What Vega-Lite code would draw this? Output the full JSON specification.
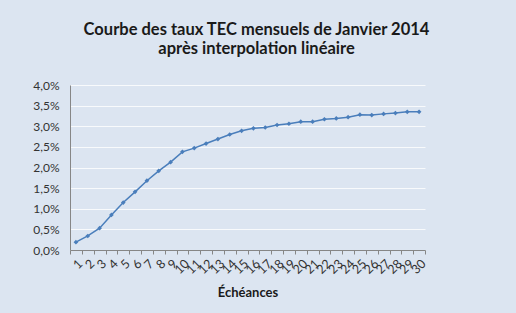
{
  "$schema": "https://vega.github.io/schema/vega-lite/v6.json",
  "width": 355,
  "height": 165,
  "autosize": {"type": "none"},
  "padding": {"left": 70, "top": 85, "right": 91, "bottom": 63},
  "background": "#dce5f1",
  "title": {
    "text": ["Courbe des taux TEC mensuels  de Janvier  2014", "après interpolation  linéaire"],
    "font": "Lato",
    "fontSize": 16.5,
    "fontWeight": "bold",
    "color": "#1a1a1a",
    "lineHeight": 19,
    "anchor": "middle",
    "dx": 9,
    "offset": 22
  },
  "config": {
    "view": {"stroke": null},
    "axis": {"labelFont": "Lato", "titleFont": "Lato"}
  },
  "data": {
    "values": [
      {"echeance": "1", "taux": 0.19},
      {"echeance": "2", "taux": 0.34},
      {"echeance": "3", "taux": 0.53},
      {"echeance": "4", "taux": 0.85},
      {"echeance": "5", "taux": 1.15},
      {"echeance": "6", "taux": 1.41},
      {"echeance": "7", "taux": 1.68},
      {"echeance": "8", "taux": 1.92},
      {"echeance": "9", "taux": 2.13},
      {"echeance": "10", "taux": 2.38},
      {"echeance": "11", "taux": 2.47},
      {"echeance": "12", "taux": 2.58},
      {"echeance": "13", "taux": 2.69},
      {"echeance": "14", "taux": 2.8},
      {"echeance": "15", "taux": 2.89},
      {"echeance": "16", "taux": 2.95},
      {"echeance": "17", "taux": 2.97},
      {"echeance": "18", "taux": 3.03},
      {"echeance": "19", "taux": 3.06},
      {"echeance": "20", "taux": 3.11},
      {"echeance": "21", "taux": 3.11},
      {"echeance": "22", "taux": 3.17},
      {"echeance": "23", "taux": 3.19},
      {"echeance": "24", "taux": 3.22},
      {"echeance": "25", "taux": 3.28},
      {"echeance": "26", "taux": 3.27},
      {"echeance": "27", "taux": 3.3},
      {"echeance": "28", "taux": 3.32},
      {"echeance": "29", "taux": 3.35},
      {"echeance": "30", "taux": 3.35}
    ]
  },
  "encoding": {
    "x": {
      "field": "echeance",
      "type": "ordinal",
      "sort": null,
      "scale": {"paddingInner": 0, "paddingOuter": 0},
      "axis": {
        "title": "Échéances",
        "titleFontSize": 13,
        "titleFontWeight": "bold",
        "titleColor": "#1a1a1a",
        "titlePadding": 10,
        "labelAngle": -45,
        "labelFontSize": 12.5,
        "labelColor": "#333333",
        "labelPadding": 3,
        "tickBand": "extent",
        "tickSize": 4,
        "tickColor": "#868686",
        "domainColor": "#868686",
        "grid": false
      }
    },
    "y": {
      "field": "taux",
      "type": "quantitative",
      "scale": {"domain": [0, 4]},
      "axis": {
        "title": null,
        "values": [0, 0.5, 1, 1.5, 2, 2.5, 3, 3.5, 4],
        "labelExpr": "replace(format(datum.value, '.1f'), '.', ',') + '%'",
        "labelFontSize": 12,
        "labelColor": "#333333",
        "labelPadding": 11,
        "ticks": false,
        "domainColor": "#868686",
        "gridColor": "#ffffff",
        "gridOpacity": 0.8
      }
    }
  },
  "layer": [
    {"mark": {"type": "line", "color": "#4a7ebb", "strokeWidth": 1.5}},
    {"mark": {"type": "point", "shape": "diamond", "filled": true, "size": 22, "color": "#4a7ebb", "opacity": 1}}
  ]
}
